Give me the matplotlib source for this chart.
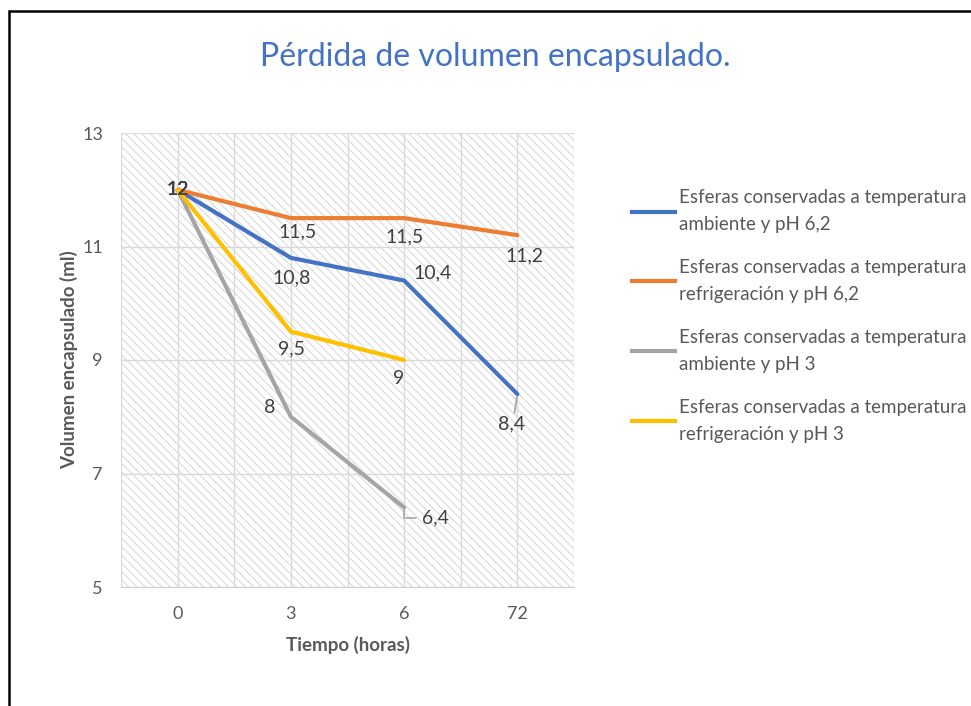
import matplotlib
matplotlib.use("Agg")
import matplotlib.pyplot as plt
from matplotlib.patches import Rectangle
from matplotlib.lines import Line2D

plt.rcParams["font.family"] = ["Lato", "DejaVu Sans"]
plt.rcParams["hatch.linewidth"] = 0.7

# ── Data ──────────────────────────────────────────────────────────────────────
tiempos = ["0", "3", "6", "72"]
amb_ph62 = [12, 10.8, 10.4, 8.4]
ref_ph62 = [12, 11.5, 11.5, 11.2]
amb_ph3 = [12, 8, 6.4]
ref_ph3 = [12, 9.5, 9]

series = [
    ("Esferas conservadas a temperatura\nambiente y pH 6,2", amb_ph62, "#4472C4"),
    ("Esferas conservadas a temperatura\nrefrigeración y pH 6,2", ref_ph62, "#ED7D31"),
    ("Esferas conservadas a temperatura\nambiente y pH 3", amb_ph3, "#A5A5A5"),
    ("Esferas conservadas a temperatura\nrefrigeración y pH 3", ref_ph3, "#FFC000"),
]

# label offsets in pixels (dx, dy) for each point of each series
label_offsets = [
    [(0, 0), (1, -20), (28, 8), (-6, -30)],
    [(0, 0), (7, -14), (0, -19), (7, -21)],
    [(0, 0), (-21, 9), (31, -10)],
    [(0, 0), (1, -17), (-6, -19)],
]

TXT = "#595959"
FS = 14

fig = plt.figure(figsize=(9.71, 7.06), dpi=100)
fig.patches.append(Rectangle((9 / 971, -0.1), 1.2, 1 - 11 / 706 + 0.1,
                             transform=fig.transFigure, fill=False,
                             edgecolor="black", linewidth=1.8))

ax = fig.add_axes([121 / 971, 1 - 587 / 706, 453 / 971, 454 / 706])
ax.set_xlim(-0.5, 3.5)
ax.set_ylim(5, 13)

# fondo rayado del área de trazado
ax.add_patch(Rectangle((0, 0), 1, 1, transform=ax.transAxes, facecolor="white",
                       edgecolor="#D6D6D6", hatch="\\\\\\\\", linewidth=0, zorder=0))

x = list(range(len(tiempos)))
ax.set_xticks(x)
ax.set_xticklabels(tiempos)
ax.set_xticks([i - 0.5 for i in range(len(tiempos) + 1)], minor=True)
ax.set_yticks([5, 7, 9, 11, 13])
ax.grid(True, which="major", color="#D9D9D9", linewidth=1)
ax.grid(True, which="minor", axis="x", color="#D9D9D9", linewidth=1)
ax.set_axisbelow(True)
for s in ["top", "right", "left"]:
    ax.spines[s].set_visible(False)
ax.spines["bottom"].set_color("#D0D0D0")
ax.tick_params(which="both", length=0, colors=TXT, labelsize=13, pad=14)
ax.tick_params(axis="y", pad=13)

handles = []
for (label, vals, color), offs in zip(series, label_offsets):
    xs = x[:len(vals)]
    ax.plot(xs, vals, color=color, linewidth=3, solid_capstyle="round", zorder=3)
    handles.append(Line2D([], [], color=color, linewidth=3))
    for xi, v, (dx, dy) in zip(xs, vals, offs):
        txt = f"{v:g}".replace(".", ",")
        arrow = None
        if (label, xi) == (series[0][0], 3):
            arrow = dict(arrowstyle="-", color="#A6A6A6", lw=1.3, shrinkA=0, shrinkB=2,
                         relpos=(0.6, 1.0))
        if (label, xi) == (series[2][0], 2):
            arrow = dict(arrowstyle="-", color="#A6A6A6", lw=1.2, shrinkA=2, shrinkB=2,
                         relpos=(0, 0.5),
                         connectionstyle="angle,angleA=180,angleB=-90,rad=0")
        ax.annotate(txt, (xi, v), xytext=(dx, dy), textcoords="offset pixels",
                    ha="center", va="center", fontsize=FS, color="#404040",
                    arrowprops=arrow, zorder=4)

ax.set_xlabel("Tiempo (horas)", fontsize=13.5, fontweight="bold", color=TXT, labelpad=10)
ax.set_ylabel("Volumen encapsulado (ml)", fontsize=13.5, fontweight="bold", color=TXT,
              labelpad=3)

fig.text(495 / 971, 1 - 57 / 706, "Pérdida de volumen encapsulado.", ha="center",
         va="center", fontsize=23, color="#4472C4")

fig.legend(handles, [s[0] for s in series], loc="upper left",
           bbox_to_anchor=(632 / 971, 1 - 189 / 706), frameon=False, fontsize=13.5,
           labelcolor=TXT, handlelength=2.3, handletextpad=0.2, labelspacing=1.37,
           borderaxespad=0, borderpad=0)
for t in fig.legends[0].get_texts():
    t.set_linespacing(1.73)

fig.savefig("out.png", dpi=100)
